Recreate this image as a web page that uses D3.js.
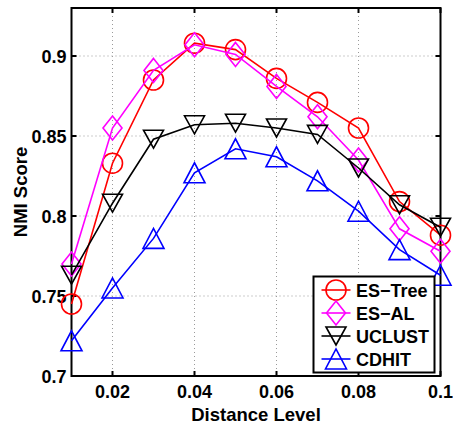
<!DOCTYPE html>
<html>
<head>
<meta charset="utf-8">
<script src="https://cdn.jsdelivr.net/npm/d3@7"></script>
<style>
  html, body { margin: 0; padding: 0; background: #fff; }
  svg { display: block; }
  text { font-family: "Liberation Sans", Arial, Helvetica, sans-serif; font-weight: bold; fill: #000; }
</style>
</head>
<body>
<svg id="chart" width="453" height="428"></svg>
<script>
// Distance levels on the x axis
const distanceLevels = [0.01, 0.02, 0.03, 0.04, 0.05, 0.06, 0.07, 0.08, 0.09, 0.1];

// NMI score for each method
const esTree = [0.745, 0.833, 0.885, 0.908, 0.904, 0.886, 0.871, 0.855, 0.809, 0.788];
const esAL   = [0.770, 0.855, 0.891, 0.907, 0.901, 0.881, 0.862, 0.835, 0.792, 0.778];
const uclust = [0.763, 0.808, 0.848, 0.857, 0.858, 0.855, 0.851, 0.830, 0.807, 0.793];
const cdhit  = [0.722, 0.755, 0.786, 0.827, 0.842, 0.837, 0.822, 0.803, 0.779, 0.763];

// Tick labels
const xTicks = [0.02, 0.04, 0.06, 0.08, 0.1];
const xTickLabels = ["0.02", "0.04", "0.06", "0.08", "0.1"];
const yTicks = [0.7, 0.75, 0.8, 0.85, 0.9];
const yTickLabels = ["0.7", "0.75", "0.8", "0.85", "0.9"];

const seriesNames = ["ES\u2212Tree", "ES\u2212AL", "UCLUST", "CDHIT"];
const seriesValues = [esTree, esAL, uclust, cdhit];
const seriesColors = ["#ff0000", "#ff00ff", "#000000", "#0000ff"];
const seriesMarkers = ["circle", "diamond", "triangleDown", "triangleUp"];

const svg = d3.select("#chart");
const plot = { left: 71.5, right: 440.5, top: 8, bottom: 376 };

const x = d3.scaleLinear().domain([0.01, 0.1]).range([plot.left, plot.right]);
const y = d3.scaleLinear().domain([0.7, 0.93]).range([plot.bottom, plot.top]);

// Marker path generator centred on (0,0)
function markerPath(kind) {
  const p = d3.path();
  if (kind === "circle") {
    p.arc(0, 0, 10, 0, Math.PI * 2);
  } else if (kind === "diamond") {
    p.moveTo(0, -12); p.lineTo(9.5, 0); p.lineTo(0, 12); p.lineTo(-9.5, 0); p.closePath();
  } else if (kind === "triangleDown") {
    p.moveTo(-10, -9); p.lineTo(10, -9); p.lineTo(0, 9); p.closePath();
  } else {
    p.moveTo(-10.5, 10); p.lineTo(10.5, 10); p.lineTo(0, -10); p.closePath();
  }
  return p.toString();
}

// Dotted grid
const grid = svg.append("g");
grid.selectAll("line.gx").data(xTicks.filter(d => d < 0.1)).enter().append("line")
  .attr("x1", d => x(d)).attr("x2", d => x(d))
  .attr("y1", plot.top).attr("y2", plot.bottom)
  .attr("stroke", "#9a9a9a").attr("stroke-width", 1).attr("stroke-dasharray", "1,3");
grid.selectAll("line.gy").data(yTicks.filter(d => d > 0.7)).enter().append("line")
  .attr("y1", d => y(d)).attr("y2", d => y(d))
  .attr("x1", plot.left).attr("x2", plot.right)
  .attr("stroke", "#9a9a9a").attr("stroke-width", 1).attr("stroke-dasharray", "1,3");

// Axes with inward ticks on all four sides
const tickLen = 5;
const axes = svg.append("g").attr("stroke", "#000").attr("stroke-width", 2);
xTicks.forEach(t => {
  axes.append("line").attr("x1", x(t)).attr("x2", x(t)).attr("y1", plot.bottom).attr("y2", plot.bottom - tickLen);
  axes.append("line").attr("x1", x(t)).attr("x2", x(t)).attr("y1", plot.top).attr("y2", plot.top + tickLen);
});
yTicks.forEach(t => {
  axes.append("line").attr("y1", y(t)).attr("y2", y(t)).attr("x1", plot.left).attr("x2", plot.left + tickLen);
  axes.append("line").attr("y1", y(t)).attr("y2", y(t)).attr("x1", plot.right).attr("x2", plot.right - tickLen);
});
axes.append("rect")
  .attr("x", plot.left).attr("y", plot.top)
  .attr("width", plot.right - plot.left).attr("height", plot.bottom - plot.top)
  .attr("fill", "none");

// Tick labels
svg.append("g").selectAll("text").data(xTicks).enter().append("text")
  .attr("x", d => x(d)).attr("y", 397.5)
  .attr("text-anchor", "middle").attr("font-size", 18)
  .text((d, i) => xTickLabels[i]);
svg.append("g").selectAll("text").data(yTicks).enter().append("text")
  .attr("x", 66.5).attr("y", d => y(d) + 6.5)
  .attr("text-anchor", "end").attr("font-size", 18)
  .text((d, i) => yTickLabels[i]);

// Axis titles
svg.append("text").attr("x", (plot.left + plot.right) / 2).attr("y", 421)
  .attr("text-anchor", "middle").attr("font-size", 18.5).text("Distance Level");
svg.append("text")
  .attr("transform", `translate(27,${(plot.top + plot.bottom) / 2}) rotate(-90)`)
  .attr("text-anchor", "middle").attr("font-size", 18.5).text("NMI Score");

// Series lines and markers
const line = d3.line().x((d, i) => x(distanceLevels[i])).y(d => y(d));
seriesValues.forEach((vals, s) => {
  const g = svg.append("g");
  g.append("path").datum(vals).attr("d", line)
    .attr("fill", "none").attr("stroke", seriesColors[s]).attr("stroke-width", 1.6);
  g.selectAll("path.m").data(vals).enter().append("path")
    .attr("class", "m")
    .attr("transform", (d, i) => `translate(${x(distanceLevels[i])},${y(d)})`)
    .attr("d", markerPath(seriesMarkers[s]))
    .attr("fill", "none").attr("stroke", seriesColors[s]).attr("stroke-width", 1.6);
});

// Legend
const legend = svg.append("g");
legend.append("rect").attr("x", 313.5).attr("y", 276.5).attr("width", 121).attr("height", 96)
  .attr("fill", "#fff").attr("stroke", "#000").attr("stroke-width", 2);
seriesNames.forEach((name, s) => {
  const ly = 290 + s * 23;
  legend.append("line").attr("x1", 321.5).attr("x2", 350.5).attr("y1", ly).attr("y2", ly)
    .attr("stroke", seriesColors[s]).attr("stroke-width", 1.6);
  legend.append("path").attr("transform", `translate(336,${ly})`)
    .attr("d", markerPath(seriesMarkers[s]))
    .attr("fill", "none").attr("stroke", seriesColors[s]).attr("stroke-width", 1.6);
  legend.append("text").attr("x", 356).attr("y", ly + 6.5).attr("font-size", 18).text(name);
});
</script>
</body>
</html>
